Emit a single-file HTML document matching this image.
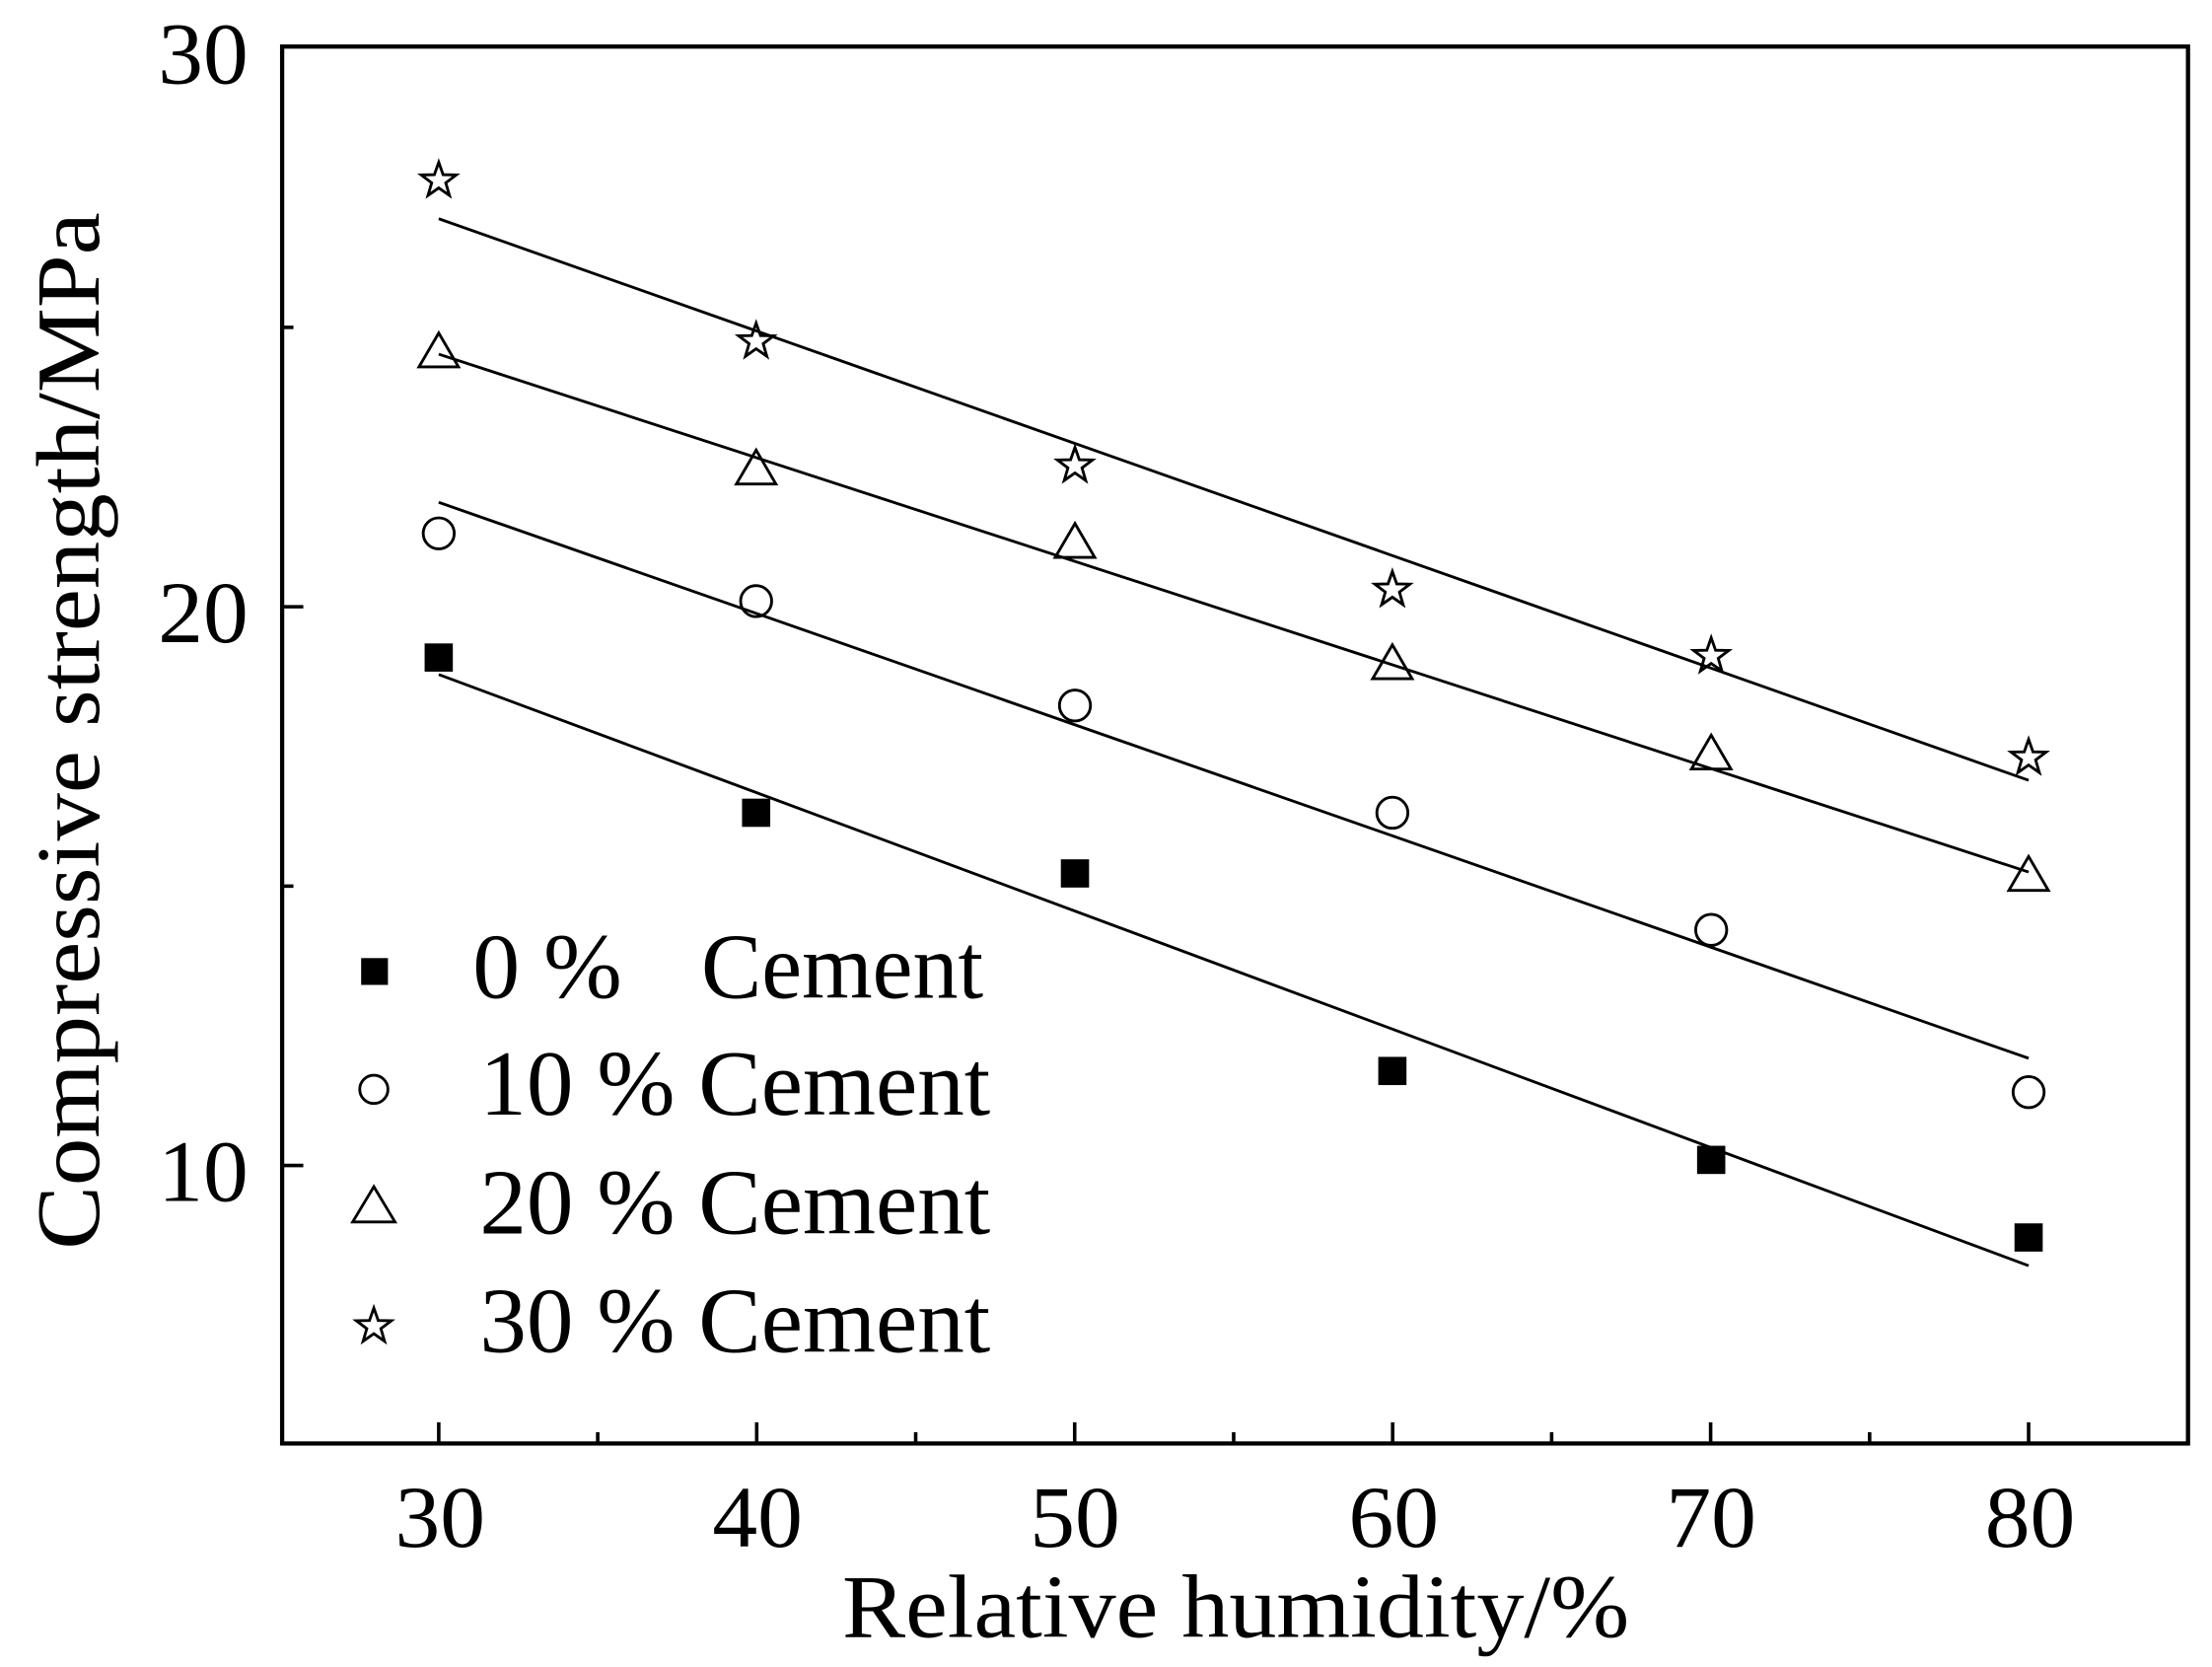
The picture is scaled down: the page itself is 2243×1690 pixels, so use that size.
<!DOCTYPE html>
<html><head><meta charset="utf-8"><style>html,body{margin:0;padding:0;background:#fff}svg{display:block}</style></head>
<body>
<svg width="2243" height="1690" viewBox="0 0 1568 1181.4" preserveAspectRatio="none" xmlns="http://www.w3.org/2000/svg" font-family="Liberation Serif, serif" fill="#000">
<rect x="200" y="33" width="1351" height="990" fill="none" stroke="#000" stroke-width="3"/>
<g stroke="#000" stroke-width="2.5">
<line x1="200" y1="826" x2="215" y2="826"/><line x1="200" y1="430" x2="215" y2="430"/>
<line x1="200" y1="628" x2="208" y2="628"/><line x1="200" y1="232" x2="208" y2="232"/>
<line x1="311" y1="1023" x2="311" y2="1008"/><line x1="536.4" y1="1023" x2="536.4" y2="1008"/><line x1="761.8" y1="1023" x2="761.8" y2="1008"/><line x1="987.2" y1="1023" x2="987.2" y2="1008"/><line x1="1212.6" y1="1023" x2="1212.6" y2="1008"/><line x1="1438" y1="1023" x2="1438" y2="1008"/>
<line x1="423.7" y1="1023" x2="423.7" y2="1015"/><line x1="649.1" y1="1023" x2="649.1" y2="1015"/><line x1="874.5" y1="1023" x2="874.5" y2="1015"/><line x1="1099.9" y1="1023" x2="1099.9" y2="1015"/><line x1="1325.3" y1="1023" x2="1325.3" y2="1015"/>
</g>
<g font-size="62" text-anchor="middle">
<text x="312" y="1096" textLength="64" lengthAdjust="spacingAndGlyphs">30</text>
<text x="537" y="1096" textLength="64" lengthAdjust="spacingAndGlyphs">40</text>
<text x="762" y="1096" textLength="64" lengthAdjust="spacingAndGlyphs">50</text>
<text x="988" y="1096" textLength="64" lengthAdjust="spacingAndGlyphs">60</text>
<text x="1213" y="1096" textLength="64" lengthAdjust="spacingAndGlyphs">70</text>
<text x="1439" y="1096" textLength="64" lengthAdjust="spacingAndGlyphs">80</text>
</g>
<g font-size="62" text-anchor="end">
<text x="176" y="59" textLength="64" lengthAdjust="spacingAndGlyphs">30</text>
<text x="176" y="455" textLength="64" lengthAdjust="spacingAndGlyphs">20</text>
<text x="176" y="851" textLength="64" lengthAdjust="spacingAndGlyphs">10</text>
</g>
<text x="876" y="1160" font-size="64" text-anchor="middle" textLength="558" lengthAdjust="spacingAndGlyphs">Relative humidity/%</text>
<text transform="translate(70,518) rotate(-90)" font-size="64" text-anchor="middle" textLength="735" lengthAdjust="spacingAndGlyphs">Compressive strength/MPa</text>
<g stroke="#000" stroke-width="2" fill="none">
<line x1="311" y1="478" x2="1438" y2="897"/>
<line x1="311" y1="356" x2="1438" y2="750"/>
<line x1="311" y1="251" x2="1438" y2="618"/>
<line x1="311" y1="155" x2="1438" y2="553"/>
</g>
<g fill="#000">
<rect x="301" y="456" width="20" height="20"/><rect x="526" y="566" width="20" height="20"/><rect x="752" y="609" width="20" height="20"/><rect x="977" y="749" width="20" height="20"/><rect x="1203" y="812" width="20" height="20"/><rect x="1428" y="867" width="20" height="20"/>
<rect x="256" y="679" width="19" height="19"/>
</g>
<g fill="none" stroke="#000" stroke-width="2">
<circle cx="311" cy="378" r="11"/><circle cx="536" cy="426" r="11"/><circle cx="762" cy="500" r="11"/><circle cx="987" cy="576" r="11"/><circle cx="1213" cy="659" r="11"/><circle cx="1438" cy="774" r="11"/>
<circle cx="265" cy="772" r="10"/>
</g>
<g fill="none" stroke="#000" stroke-width="2">
<path d="M311,236 l-14,24 h28 z"/><path d="M536,319 l-14,24 h28 z"/><path d="M762,371 l-14,24 h28 z"/><path d="M987,457 l-14,24 h28 z"/><path d="M1213,521 l-14,24 h28 z"/><path d="M1438,607 l-14,24 h28 z"/>
<path d="M265,841 l-15,25 h30 z"/>
</g>
<defs><path id="st" d="M0,-13 L3.1,-4.2 L12.4,-4 L5,1.6 L7.6,10.5 L0,5.2 L-7.6,10.5 L-5,1.6 L-12.4,-4 L-3.1,-4.2 Z"/></defs>
<g fill="none" stroke="#000" stroke-width="2">
<use href="#st" x="311" y="128"/><use href="#st" x="536" y="242"/><use href="#st" x="762" y="330"/><use href="#st" x="987" y="418"/><use href="#st" x="1213" y="465"/><use href="#st" x="1438" y="537"/>
<use href="#st" x="265" y="940"/>
</g>
<g font-size="66">
<text x="335" y="707" textLength="106" lengthAdjust="spacingAndGlyphs">0 %</text>
<text x="497" y="707" textLength="200" lengthAdjust="spacingAndGlyphs">Cement</text>
<text x="340" y="790" textLength="362" lengthAdjust="spacingAndGlyphs">10 % Cement</text>
<text x="340" y="874" textLength="362" lengthAdjust="spacingAndGlyphs">20 % Cement</text>
<text x="340" y="958" textLength="362" lengthAdjust="spacingAndGlyphs">30 % Cement</text>
</g>
</svg>
</body></html>
